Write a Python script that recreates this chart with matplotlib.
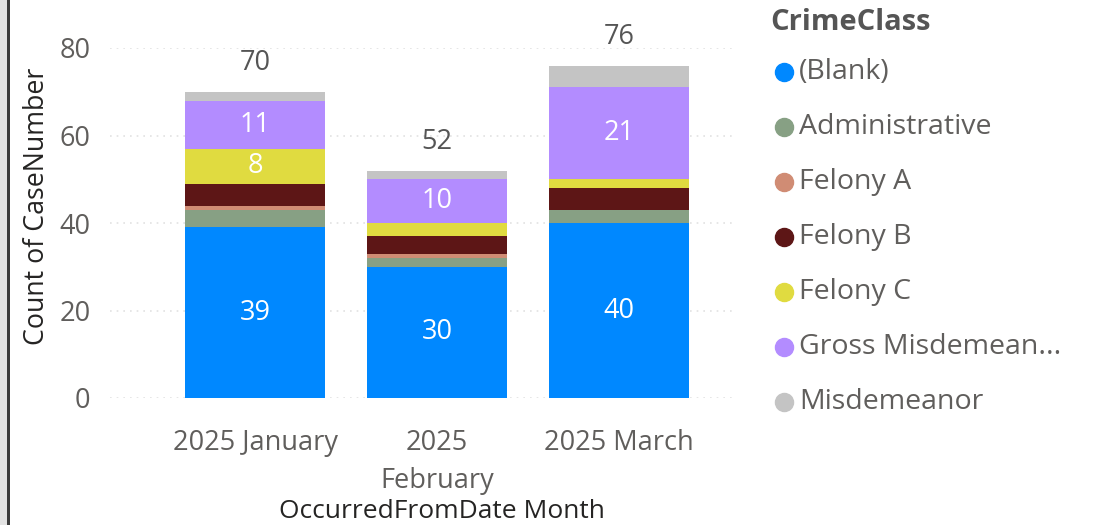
import matplotlib
matplotlib.use("Agg")
import matplotlib.pyplot as plt
from matplotlib.lines import Line2D
from matplotlib.patches import Rectangle
import numpy as np

months = ["2025 January", "2025\nFebruary", "2025 March"]
classes = ["(Blank)", "Administrative", "Felony A", "Felony B", "Felony C",
           "Gross Misdemean...", "Misdemeanor"]
blank = [39, 30, 40]
administrative = [4, 2, 3]
felony_a = [1, 1, 0]
felony_b = [5, 4, 5]
felony_c = [8, 3, 2]
gross_misdemeanor = [11, 10, 21]
misdemeanor = [2, 2, 5]
series = [blank, administrative, felony_a, felony_b, felony_c,
          gross_misdemeanor, misdemeanor]
colors = ["#0088FF", "#87A084", "#D08C74", "#5D1616", "#E0DB40",
          "#B38CFF", "#C4C4C4"]
yticks = [0, 20, 40, 60, 80]

plt.rcParams['font.family'] = ['Open Sans', 'DejaVu Sans']

fig = plt.figure(figsize=(10.94, 5.25), dpi=100)
fig.patch.set_facecolor("white")
ax = fig.add_axes([110/1094, 1-398/525, (735-110)/1094, (398-48)/525])

x = np.arange(len(months))
bottom = np.zeros(len(months))
for vals, col in zip(series, colors):
    vals = np.array(vals, dtype=float)
    ax.bar(x, vals, bottom=bottom, width=0.77, color=col,
           edgecolor="none", zorder=3)
    for xi, v, b in zip(x, vals, bottom):
        if v >= 8:
            ax.text(xi, b + v/2, f"{int(v)}", ha="center", va="center",
                    color="white", fontsize=19.5, zorder=4)
    bottom += vals

for xi, t in zip(x, bottom):
    ax.annotate(f"{int(t)}", (xi, t), xytext=(0, 10.5), textcoords="offset points",
                ha="center", va="bottom", color="#555555", fontsize=19.5,
                annotation_clip=False)

ax.set_xlim(-0.8, 2.64)
ax.set_ylim(0, 80)
ax.set_yticks(yticks)
ax.set_yticklabels([str(t) for t in yticks], fontsize=19.5, color="#605E5C")
ax.set_xticks(x)
ax.set_xticklabels(months, fontsize=19.5, color="#605E5C", linespacing=1.5)
ax.tick_params(axis="both", length=0)
ax.tick_params(axis="y", pad=14)
ax.tick_params(axis="x", pad=22)
ax.grid(axis="y", linestyle=(0, (1, 3)), color="#E2E2E2", linewidth=1.2, zorder=0)
for s in ax.spines.values():
    s.set_visible(False)

fig.text(37/1094, 1-206/525, "Count of CaseNumber", rotation=90, ha="center",
         va="center", fontsize=19.3, color="#252423")
fig.text(442/1094, 1-512/525, "OccurredFromDate Month", ha="center",
         va="center", fontsize=19, color="#252423")

# legend
fig.text(770/1094, 1-22/525, "CrimeClass", ha="left", va="center",
         fontsize=21, fontweight="bold", color="#555555")
for i, (lab, col) in enumerate(zip(classes, colors)):
    yy = 1 - (72 + i*55)/525
    fig.add_artist(Line2D([784/1094], [yy], marker="o", markersize=13,
                          color=col, linestyle="none",
                          transform=fig.transFigure))
    fig.text(799/1094, yy, lab, ha="left", va="center", fontsize=20.5,
             color="#605E5C")

# left frame
fig.add_artist(Rectangle((0, 0), 7/1094, 1, transform=fig.transFigure,
                         facecolor="#E3E3E3", edgecolor="none"))
fig.add_artist(Rectangle((7/1094, 0), 2.5/1094, 1, transform=fig.transFigure,
                         facecolor="#3C3C3C", edgecolor="none"))

fig.savefig("out.png", dpi=100)
